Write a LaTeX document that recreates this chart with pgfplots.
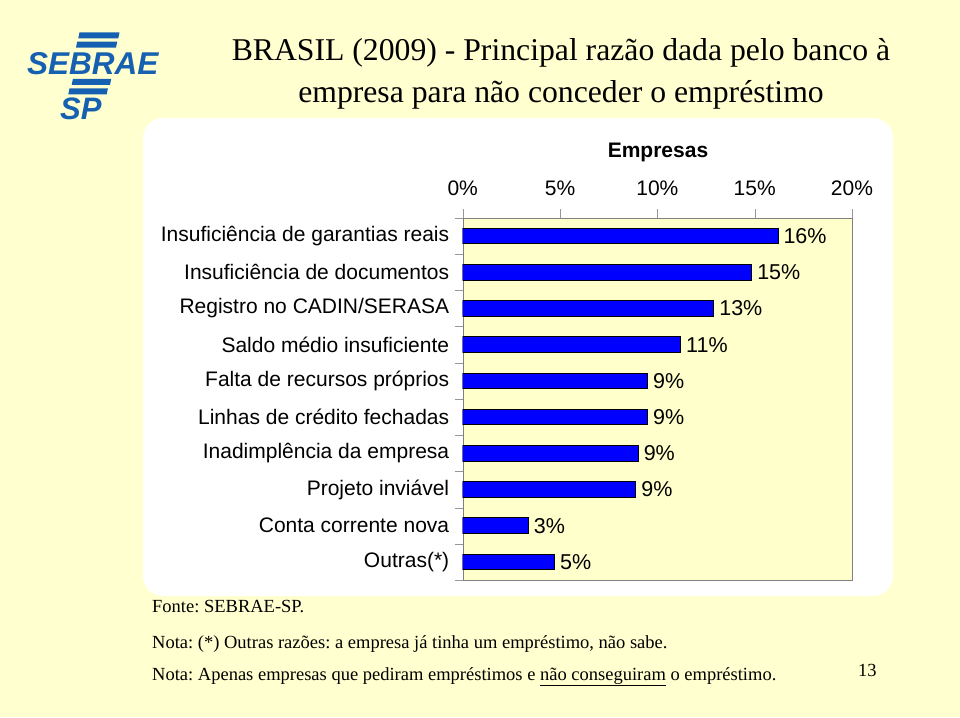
\documentclass[border=0pt]{standalone}
\usepackage{fontspec}
\setmainfont{Liberation Serif}
\setsansfont{Liberation Sans}
\usepackage{pgfplots}
\pgfplotsset{compat=1.18}
\definecolor{slidebg}{RGB}{255,255,208}
\definecolor{plotbg}{RGB}{255,255,204}
\definecolor{barblue}{RGB}{0,0,255}
\definecolor{logoblue}{RGB}{22,96,178}
\frenchspacing
\begin{document}
\begin{tikzpicture}[x=1pt,y=1pt]
\useasboundingbox (0,0) rectangle (960,717);
\fill[slidebg] (0,0) rectangle (960,717);
\fill[white, rounded corners=20pt] (143,121) rectangle (893,599);
% logo
\fill[logoblue] (79.5,684.7) -- (119.5,684.7) -- (118.3,678.7) -- (78.3,678.7) -- cycle;
\fill[logoblue] (77.2,675.3) -- (117.2,675.3) -- (116,669.3) -- (76,669.3) -- cycle;
\fill[logoblue] (72.9,638) -- (111.2,638) -- (110,632) -- (71.7,632) -- cycle;
\fill[logoblue] (69.5,628.7) -- (107.9,628.7) -- (106.7,622.7) -- (68.3,622.7) -- cycle;
\node[anchor=base west, inner sep=0pt, text=logoblue, font=\fontsize{31.5}{31}\selectfont\sffamily\bfseries\itshape] at (27,642) {SEBRAE};
\node[anchor=base west, inner sep=0pt, text=logoblue, font=\fontsize{31}{32}\selectfont\sffamily\bfseries\itshape] at (60,597) {SP};
% title
\node[anchor=base, inner sep=0pt, font=\fontsize{31.7}{32}\selectfont] at (561,656) {BRASIL (2009) - Principal razão dada pelo banco à};
\node[anchor=base, inner sep=0pt, font=\fontsize{31.7}{32}\selectfont] at (561,614) {empresa para não conceder o empréstimo};
\node[font=\fontsize{21}{22}\selectfont\sffamily\bfseries] at (658,565) {Empresas};
% chart
\begin{axis}[
  at={(462.7pt,137pt)}, anchor=south west,
  scale only axis, width=389.3pt, height=362pt,
  xbar, bar width=15.7pt,
  xmin=0, xmax=20, ymin=-0.5, ymax=9.5, y dir=reverse,
  axis background/.style={fill=plotbg},
  axis line style={draw={rgb,255:red,128;green,128;blue,128}},
  xtick={0,5,10,15,20}, xtick pos=upper, xticklabel pos=upper,
  xticklabel={\pgfmathprintnumber{\tick}\%},
  tick align=outside, major tick length=9pt, minor tick length=8pt,
  tick style={draw={rgb,255:red,150;green,150;blue,150}},
  ytick={0,...,9}, ytick pos=left,
  major y tick style={draw=none},
  minor ytick={-0.5,0.5,...,9.5},
  yticklabels={Insuficiência de garantias reais,Insuficiência de documentos,Registro no CADIN/SERASA,Saldo médio insuficiente,Falta de recursos próprios,Linhas de crédito fechadas,Inadimplência da empresa,Projeto inviável,Conta corrente nova,Outras(*)},
  every tick label/.append style={font=\fontsize{21}{22}\selectfont\sffamily},
  /pgf/number format/assume math mode=true,
  xticklabel style={yshift=10pt},
  yticklabel style={xshift=-1pt},
  nodes near coords, point meta=explicit symbolic,
  every node near coord/.append style={font=\fontsize{21.5}{22}\selectfont\sffamily, black, anchor=west, inner sep=5pt},
]
\addplot[fill=barblue, draw=black, line width=1pt] coordinates {
 (16.2,0) [16\%]
 (14.85,1) [15\%]
 (12.9,2) [13\%]
 (11.2,3) [11\%]
 (9.5,4) [9\%]
 (9.5,5) [9\%]
 (9.02,6) [9\%]
 (8.9,7) [9\%]
 (3.37,8) [3\%]
 (4.72,9) [5\%]
};
\end{axis}
% footnotes
\node[anchor=base west, inner sep=0pt, font=\fontsize{18.5}{19}\selectfont] at (152,104) {Fonte: SEBRAE-SP.};
\node[anchor=base west, inner sep=0pt, font=\fontsize{18.5}{19}\selectfont] at (152,69) {Nota: (*) Outras razões: a empresa já tinha um empréstimo, não sabe.};
\node[anchor=base west, inner sep=0pt, font=\fontsize{18.5}{19}\selectfont] at (152,37) {Nota: Apenas empresas que pediram empréstimos e \underline{não conseguiram} o empréstimo.};
\node[anchor=base west, inner sep=0pt, font=\fontsize{18.5}{19}\selectfont] at (858,41) {13};
\end{tikzpicture}
\end{document}
